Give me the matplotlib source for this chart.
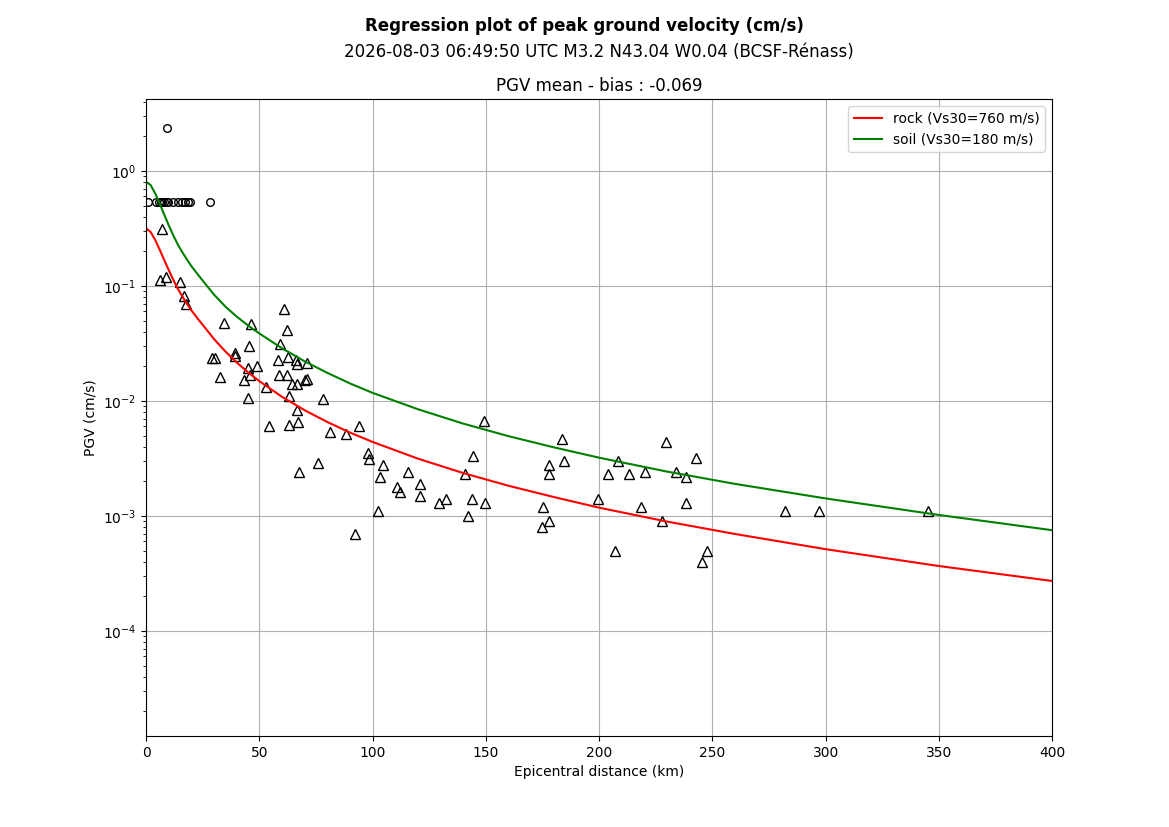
import matplotlib
matplotlib.use("Agg")
import matplotlib.pyplot as plt

# model curves
curve_dist = [0, 2, 4, 6, 8, 10, 12, 14, 16, 18, 20, 23, 26, 30, 35, 40, 45, 50,
              60, 70, 80, 90, 100, 120, 140, 160, 180, 200, 230, 260, 300, 350, 400]
rock_pgv = [0.3165, 0.2944, 0.2512, 0.2065, 0.1679, 0.1371, 0.1130, 0.0944, 0.0809, 0.0700,
            0.0612, 0.0513, 0.0433, 0.0345, 0.0269, 0.0216, 0.01774, 0.01486,
            0.01086, 0.00830, 0.00656, 0.00531, 0.00440, 0.00315, 0.00236, 0.00183,
            0.00146, 0.00118, 0.000893, 0.000697, 0.000514, 0.000367, 0.000272]
soil_pgv = [0.806, 0.753, 0.638, 0.519, 0.416, 0.336, 0.275, 0.229, 0.196, 0.170,
            0.1486, 0.1245, 0.1050, 0.0839, 0.0661, 0.0541, 0.0453, 0.0386,
            0.0287, 0.0221, 0.01754, 0.01420, 0.01175, 0.00847, 0.00635, 0.00494,
            0.00395, 0.00321, 0.00243, 0.00190, 0.00142, 0.00102, 0.000752]

# observed stations (triangles)
obs_dist = [6.8, 6.0, 8.7, 14.9, 16.8, 17.8,
            34.2, 29.3, 30.4, 32.4, 39.2, 39.2, 43.0, 45.1, 45.2, 46.5, 45.1, 46.0,
            48.9, 52.8, 54.2,
            60.7, 62.0, 59.2, 58.4, 62.5, 58.8, 62.2, 64.2, 66.6, 66.1, 66.8, 70.9,
            70.1, 71.0, 63.2, 66.4, 63.2, 66.9, 67.6, 75.7, 77.9,
            81.3, 88.3, 94.1, 92.1, 97.8, 98.2,
            102.2, 103.4, 104.5, 110.8, 112.3, 115.8, 120.7, 120.7, 129.1, 132.6,
            141.0, 142.3, 143.8, 144.5, 149.0, 149.8,
            174.7, 175.2, 177.8, 177.8, 177.8, 183.6, 184.4,
            199.5, 203.9, 207.2, 208.3, 213.2, 218.3, 220.1,
            227.8, 229.4, 233.8, 238.2, 238.2, 242.7, 245.3, 247.6,
            282.0, 297.0, 345.2]
obs_pgv = [0.312, 0.113, 0.119, 0.108, 0.082, 0.069,
           0.048, 0.0237, 0.0234, 0.0162, 0.0261, 0.0244, 0.0151, 0.0194, 0.0303, 0.047, 0.0105, 0.0169,
           0.0203, 0.0131, 0.0060,
           0.0634, 0.0411, 0.0313, 0.0229, 0.024, 0.0167, 0.0167, 0.0139, 0.0139, 0.0229, 0.021, 0.0214,
           0.0153, 0.0156, 0.011, 0.0084, 0.0062, 0.0066, 0.0024, 0.0029, 0.0103,
           0.0054, 0.0052, 0.0060, 0.0007, 0.0035, 0.0031,
           0.0011, 0.0022, 0.0028, 0.0018, 0.0016, 0.0024, 0.0019, 0.0015, 0.0013, 0.0014,
           0.0023, 0.0010, 0.0014, 0.0033, 0.0067, 0.0013,
           0.0008, 0.0012, 0.0009, 0.0028, 0.0023, 0.0047, 0.0030,
           0.0014, 0.0023, 0.0005, 0.0030, 0.0023, 0.0012, 0.0024,
           0.0009, 0.0044, 0.0024, 0.0022, 0.0013, 0.0032, 0.0004, 0.0005,
           0.0011, 0.0011, 0.0011]

# felt reports (circles)
felt_dist = [1.0, 4.5, 5.5, 6.4, 7.2, 8.1, 9.0, 9.6, 11.8, 14.2, 16.0, 17.3, 18.3, 19.2, 28.4, 9.4]
felt_pgv = [0.54] * 15 + [2.35]

fig = plt.figure(figsize=(11.69, 8.27), dpi=100)
ax = fig.add_subplot(111)

ax.plot(felt_dist, felt_pgv, "o", mfc="none", mec="k", ms=5.5, ls="none")
ax.plot(obs_dist, obs_pgv, "^", mfc="none", mec="k", ms=7.5, ls="none")
ax.plot(curve_dist, rock_pgv, color="red", label="rock (Vs30=760 m/s)")
ax.plot(curve_dist, soil_pgv, color="green", label="soil (Vs30=180 m/s)")

ax.set_yscale("log")
ax.set_xlim(0, 400)
ax.set_ylim(1.22e-5, 4.2)
ax.grid(True)
ax.set_xlabel("Epicentral distance (km)")
ax.set_ylabel("PGV (cm/s)")
ax.set_title("PGV mean - bias : -0.069", fontsize=12)
ax.legend(loc="upper right")

fig.suptitle("Regression plot of peak ground velocity (cm/s)", fontsize=12, fontweight="bold")
# event line is centred over the axes, not the figure
fig.text(0.5125, 0.937, "2026-08-03 06:49:50 UTC M3.2 N43.04 W0.04 (BCSF-Rénass)",
         ha="center", va="center", fontsize=12)

fig.savefig("out.png", dpi=100)
